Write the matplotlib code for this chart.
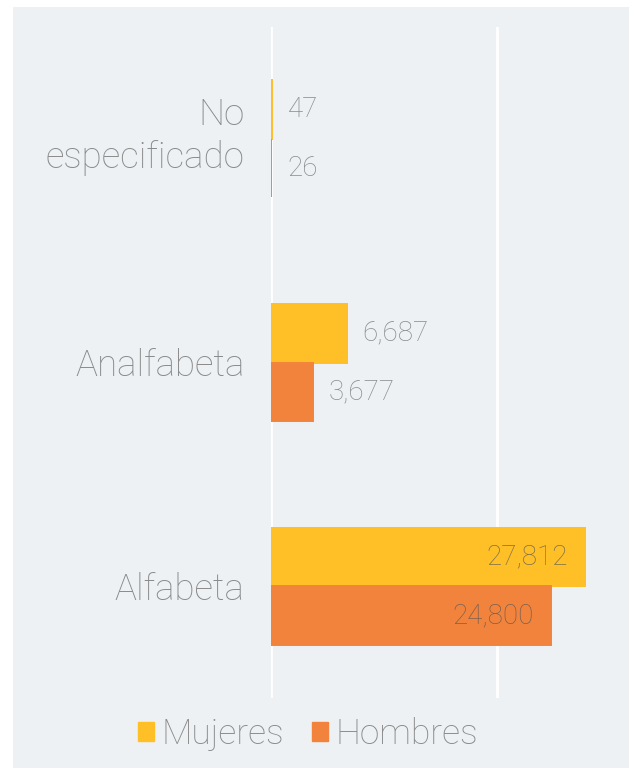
import matplotlib
matplotlib.use('Agg')
import matplotlib.pyplot as plt
from matplotlib.patches import Rectangle, Patch
from matplotlib.transforms import ScaledTranslation
import numpy as np

categorias = ['Alfabeta', 'Analfabeta', 'No\nespecificado']
mujeres = [27812, 6687, 47]
hombres = [24800, 3677, 26]
series = ['Mujeres', 'Hombres']

c_muj = '#FEBF27'
c_hom = '#F2833C'
bg = '#EDF1F4'
txt = '#8A8A8A'

plt.rcParams['font.family'] = ['Roboto', 'DejaVu Sans']
plt.rcParams['font.weight'] = 'light'

fig = plt.figure(figsize=(6.29, 7.68), dpi=100)
fig.patch.set_facecolor('white')
fig.patches.append(Rectangle((13 / 629, 0), 1, 761 / 768, transform=fig.transFigure,
                             facecolor=bg, edgecolor='none', zorder=-5))

ax = fig.add_axes([271 / 629, 70 / 768, 339 / 629, 671 / 768])
ax.set_facecolor('none')

y = np.arange(len(categorias))
h = 0.262
b1 = ax.barh(y + h / 2, mujeres, height=h, color=c_muj, edgecolor=c_muj, linewidth=1.4, zorder=3)
b2 = ax.barh(y - h / 2, hombres, height=h, color=c_hom, edgecolor=c_hom, linewidth=1.4, zorder=3)

ax.set_xlim(0, 30000)
ax.set_ylim(-0.5, 2.5)
ax.set_xticks([0, 20000])
ax.xaxis.grid(True, color='white', linewidth=2, zorder=1)
ax.set_axisbelow(True)
ax.tick_params(axis='both', length=0, labelbottom=False)
ax.set_yticks(y)
ax.set_yticklabels(categorias, fontsize=26.5, color=txt, linespacing=1.25, ha='right')
ax.tick_params(axis='y', pad=19)
for s in ax.spines.values():
    s.set_visible(False)
lab = ax.get_yticklabels()[2]
lab.set_transform(lab.get_transform() + ScaledTranslation(0, 10 / 100, fig.dpi_scale_trans))

for bars in (b1, b2):
    for r in bars:
        v = r.get_width()
        yc = r.get_y() + r.get_height() / 2
        if v > 15000:
            ax.annotate(f'{v:,.0f}', (v, yc), xytext=(-17, 0), textcoords='offset pixels',
                        ha='right', va='center', fontsize=20, color='#555555', alpha=0.75, zorder=4)
        else:
            ax.annotate(f'{v:,.0f}', (v, yc), xytext=(16, 0), textcoords='offset pixels',
                        ha='left', va='center', fontsize=20, color=txt, zorder=4)

handles = [Patch(color=c_muj), Patch(color=c_hom)]
leg = fig.legend(handles, series, loc='center', bbox_to_anchor=(308 / 629, 34 / 768),
                 ncol=2, frameon=False, fontsize=25.5, handlelength=0.45, handleheight=0.45,
                 handletextpad=0.2, columnspacing=0.8)
for t in leg.get_texts():
    t.set_color(txt)

fig.savefig('out.png', dpi=100, facecolor=fig.get_facecolor())
